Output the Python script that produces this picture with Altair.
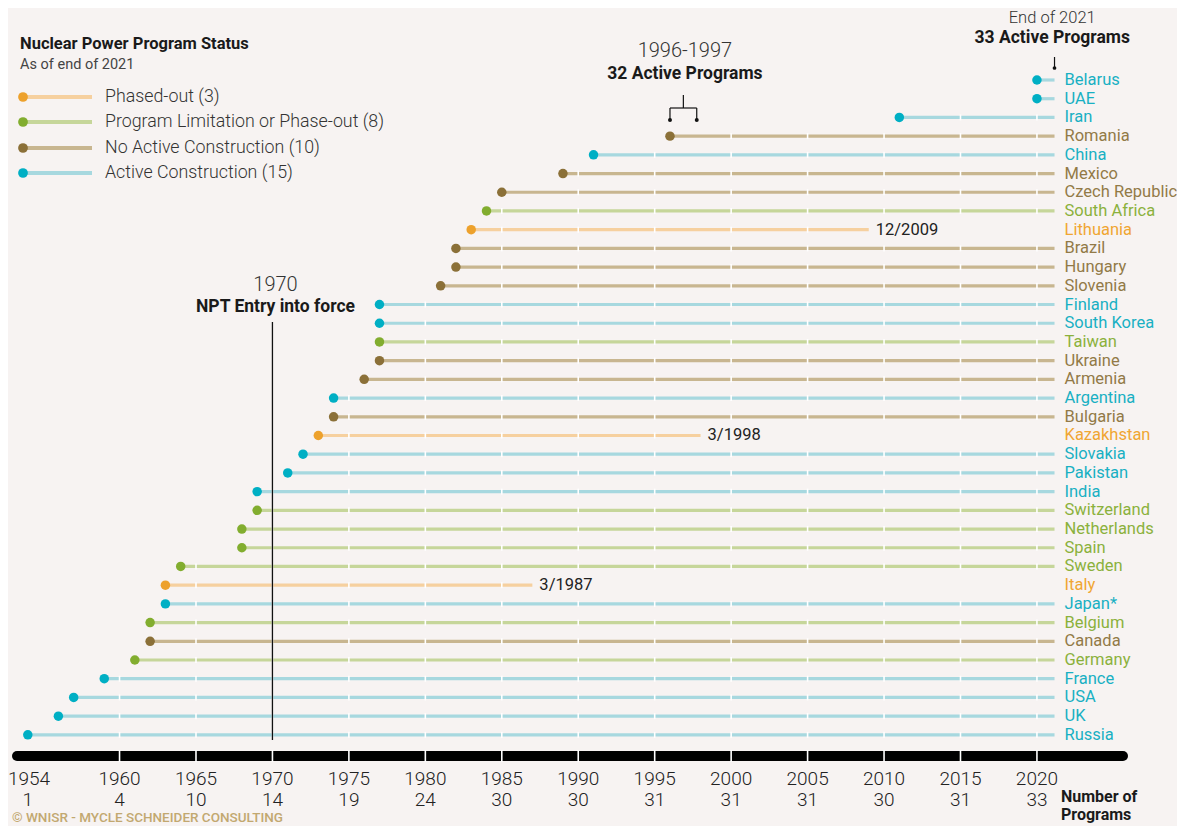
import altair as alt
import pandas as pd

# ---------------- data ----------------
countries = ["Belarus", "UAE", "Iran", "Romania", "China", "Mexico", "Czech Republic",
             "South Africa", "Lithuania", "Brazil", "Hungary", "Slovenia", "Finland",
             "South Korea", "Taiwan", "Ukraine", "Armenia", "Argentina", "Bulgaria",
             "Kazakhstan", "Slovakia", "Pakistan", "India", "Switzerland", "Netherlands",
             "Spain", "Sweden", "Italy", "Japan*", "Belgium", "Canada", "Germany",
             "France", "USA", "UK", "Russia"]
start_years = [2020, 2020, 2011, 1996, 1991, 1989, 1985, 1984, 1983, 1982, 1982, 1981, 1977,
               1977, 1977, 1977, 1976, 1974, 1974, 1973, 1972, 1971, 1969, 1969, 1968,
               1968, 1964, 1963, 1963, 1962, 1962, 1961, 1959, 1957, 1956, 1954]
status = ["A", "A", "A", "N", "A", "N", "N", "L", "P", "N", "N", "N", "A",
          "A", "L", "N", "N", "A", "N", "P", "A", "A", "A", "L", "L",
          "L", "L", "P", "A", "L", "N", "L", "A", "A", "A", "A"]
phaseout_country = ["Lithuania", "Kazakhstan", "Italy"]
phaseout_end = [2009, 1998, 1987]
phaseout_label = ["12/2009", "3/1998", "3/1987"]
END_2021 = 2021.15

status_codes = ["P", "L", "N", "A"]
status_names = ["Phased-out", "Program Limitation or Phase-out", "No Active Construction",
                "Active Construction "]

axis_years = [1954, 1960, 1965, 1970, 1975, 1980, 1985, 1990, 1995, 2000, 2005, 2010, 2015, 2020]
programs = [1, 4, 10, 14, 19, 24, 30, 30, 31, 31, 31, 30, 31, 33]

# ---------------- style ----------------
BG = "#F7F3F2"
FONT = "Roboto"
dot_colors = dict(zip(status_codes, ["#EDA12C", "#82AD2F", "#8B7038", "#00AFC4"]))
line_colors = dict(zip(status_codes, ["#F6D09F", "#C6D69A", "#C8B690", "#A7D8DF"]))
label_colors = dict(zip(status_codes, ["#F0A632", "#8BB13C", "#927A47", "#19B0C3"]))

W, H = 1169, 818
PX_PER_YEAR = 15.29
X0 = 1954 - 19.8 / PX_PER_YEAR
X1 = X0 + W / PX_PER_YEAR
ROW_H = 18.71
ROW0 = 72.0
Y_TOP = -ROW0 / ROW_H
Y_BOT = (H - ROW0) / ROW_H

xs = alt.Scale(domain=[X0, X1], nice=False, zero=False)
ys = alt.Scale(domain=[Y_TOP, Y_BOT], nice=False, zero=False, reverse=True)


def yr(px):  # chart pixel x -> year
    return X0 + px / PX_PER_YEAR


def rw(py):  # chart pixel y -> row units
    return (py - ROW0) / ROW_H


def X(f):
    return alt.X(f, scale=xs, axis=None)


def Y(f):
    return alt.Y(f, scale=ys, axis=None)


def C(f):
    return alt.Color(f, scale=None, legend=None)


# ---------------- tables ----------------
end_map = dict(zip(phaseout_country, phaseout_end))
df = pd.DataFrame({
    "country": countries,
    "start": [float(v) for v in start_years],
    "status": status,
    "row": [float(i) for i in range(len(countries))],
})
df["end"] = [float(end_map.get(c, END_2021)) for c in countries]
df["label_x"] = END_2021
df["c_dot"] = df["status"].map(dot_colors)
df["c_line"] = df["status"].map(line_colors)
df["c_lab"] = df["status"].map(label_colors)

gap_years = list(range(1960, 2021, 5))
gaps = []
for _, r in df.iterrows():
    for g in gap_years:
        if r["start"] + 0.3 < g < r["end"] - 0.1:
            gaps.append({"year": float(g), "y1": r["row"] - 0.16, "y2": r["row"] + 0.16})
gap_df = pd.DataFrame(gaps)

notes = pd.DataFrame({"end": [float(v) for v in phaseout_end], "note": phaseout_label})
notes["row"] = [float(countries.index(c)) for c in phaseout_country]

counts = [status.count(c) for c in status_codes]
leg = pd.DataFrame({
    "status": status_codes,
    "label": [f"{n} ({k})" for n, k in zip(status_names, counts)],
    "row": [rw(p) for p in [89, 114, 140, 165]],
})
leg["x0"] = yr(15)
leg["x1"] = yr(84)
leg["xt"] = yr(97)
leg["c_dot"] = leg["status"].map(dot_colors)
leg["c_line"] = leg["status"].map(line_colors)

axis_df = pd.DataFrame({"year": [float(v) for v in axis_years], "n": [str(v) for v in programs],
                        "ylab": [str(v) for v in axis_years]})

layers = []

# country lines
layers.append(alt.Chart(df).mark_rule(strokeWidth=3.2).encode(
    x=X("start:Q"), x2=alt.X2("end"), y=Y("row:Q"), color=C("c_line:N")))
# gaps on lines
layers.append(alt.Chart(gap_df).mark_rule(strokeWidth=1.6, color="#FFFFFF").encode(
    x=X("year:Q"), y=Y("y1:Q"), y2=alt.Y2("y2")))
# dots
layers.append(alt.Chart(df).mark_circle(size=90, opacity=1).encode(
    x=X("start:Q"), y=Y("row:Q"), color=C("c_dot:N")))
# country labels
layers.append(alt.Chart(df).mark_text(align="left", baseline="middle", dx=10, fontSize=16.5,
                                      font=FONT).encode(
    x=X("label_x:Q"), y=Y("row:Q"), text="country:N", color=C("c_lab:N")))
# phase-out dates
layers.append(alt.Chart(notes).mark_text(align="left", baseline="middle", dx=7, fontSize=16.5,
                                         font=FONT, color="#222222").encode(
    x=X("end:Q"), y=Y("row:Q"), text="note:N"))


def vrule(x, y1, y2, w=1.2):
    d = pd.DataFrame({"x": [float(x)], "y1": [rw(y1)], "y2": [rw(y2)]})
    return alt.Chart(d).mark_rule(color="#111111", strokeWidth=w).encode(
        x=X("x:Q"), y=Y("y1:Q"), y2=alt.Y2("y2"))


def hrule(x1, x2, y, w=1.2):
    d = pd.DataFrame({"x1": [float(x1)], "x2": [float(x2)], "y": [rw(y)]})
    return alt.Chart(d).mark_rule(color="#111111", strokeWidth=w).encode(
        x=X("x1:Q"), x2=alt.X2("x2"), y=Y("y:Q"))


def dot(x, y, size):
    d = pd.DataFrame({"x": [float(x)], "y": [rw(y)]})
    return alt.Chart(d).mark_circle(color="#111111", size=size, opacity=1).encode(
        x=X("x:Q"), y=Y("y:Q"))


def text(x, y, t, size, weight=400, color="#222222", align="center", baseline="middle"):
    d = pd.DataFrame({"x": [float(x)], "y": [rw(y)], "t": [t]})
    return alt.Chart(d).mark_text(align=align, baseline=baseline, fontSize=size, fontWeight=weight,
                                  color=color, font=FONT).encode(
        x=X("x:Q"), y=Y("y:Q"), text="t:N")


# NPT line and annotation
layers.append(vrule(1970, 314, 732, 1.3))
layers.append(text(1970.2, 277, "1970", 20, 300, "#333333"))
layers.append(text(1970.2, 299, "NPT Entry into force", 17.5, 700, "#1a1a1a"))

# 1996-1997 bracket
MID = (1996 + 1997.75) / 2
layers.append(text(MID + 0.1, 43, "1996-1997", 20, 300, "#333333"))
layers.append(text(MID + 0.1, 66, "32 Active Programs", 17.5, 700, "#1a1a1a"))
layers.append(vrule(MID, 87, 100))
layers.append(hrule(1996, 1997.75, 100))
for xv in [1996, 1997.75]:
    layers.append(vrule(xv, 100, 112))
    layers.append(dot(xv, 112, 16))

# End of 2021
layers.append(text(END_2021 - 0.15, 10, "End of 2021", 16.5, 300, "#333333"))
layers.append(text(END_2021 - 0.15, 30, "33 Active Programs", 17.5, 700, "#1a1a1a"))
layers.append(vrule(END_2021, 49, 60))
layers.append(dot(END_2021, 60, 14))

# legend title
layers.append(text(yr(12), 36, "Nuclear Power Program Status", 16.5, 700, "#1a1a1a", "left"))
layers.append(text(yr(12), 57, "As of end of 2021", 14.5, 400, "#444444", "left"))
# legend items
layers.append(alt.Chart(leg).mark_rule(strokeWidth=4).encode(
    x=X("x0:Q"), x2=alt.X2("x1"), y=Y("row:Q"), color=C("c_line:N")))
layers.append(alt.Chart(leg).mark_circle(size=95, opacity=1).encode(
    x=X("x0:Q"), y=Y("row:Q"), color=C("c_dot:N")))
layers.append(alt.Chart(leg).mark_text(align="left", baseline="middle", fontSize=17.8, fontWeight=300,
                                       font=FONT, color="#333333").encode(
    x=X("xt:Q"), y=Y("row:Q"), text="label:N"))

# bottom bar axis
bar = pd.DataFrame({"x1": [yr(9)], "x2": [yr(1115)], "y": [rw(748)]})
layers.append(alt.Chart(bar).mark_rule(color="#000000", strokeWidth=10, strokeCap="round").encode(
    x=X("x1:Q"), x2=alt.X2("x2"), y=Y("y:Q")))
bar_gaps = pd.DataFrame({"g": [float(v) for v in gap_years]})
bar_gaps["y1"] = rw(742)
bar_gaps["y2"] = rw(754)
layers.append(alt.Chart(bar_gaps).mark_rule(color="#FFFFFF", strokeWidth=1.6).encode(
    x=X("g:Q"), y=Y("y1:Q"), y2=alt.Y2("y2")))
axis_df["y1"] = rw(771)
axis_df["y2"] = rw(792)
axis_df["xl"] = [max(v, yr(21)) for v in axis_df["year"]]
layers.append(alt.Chart(axis_df).mark_text(baseline="middle", fontSize=19, fontWeight=300,
                                           font=FONT, color="#222222").encode(
    x=X("xl:Q"), y=Y("y1:Q"), text="ylab:N"))
layers.append(alt.Chart(axis_df).mark_text(baseline="middle", fontSize=19, fontWeight=300,
                                           font=FONT, color="#222222").encode(
    x=X("year:Q"), y=Y("y2:Q"), text="n:N"))
layers.append(text(yr(1053), 789, "Number of", 16, 700, "#1a1a1a", "left"))
layers.append(text(yr(1053), 807, "Programs", 16, 700, "#1a1a1a", "left"))
layers.append(text(yr(4), 810, "© WNISR - MYCLE SCHNEIDER CONSULTING", 13.5, 500, "#C2A870", "left"))

chart = alt.layer(*layers).properties(
    width=W, height=H, background=BG, padding=0,
    autosize=alt.AutoSizeParams(type="none"),
).configure_view(stroke=None)

chart.save("out.html", embed_options={"renderer": "svg", "actions": False})
